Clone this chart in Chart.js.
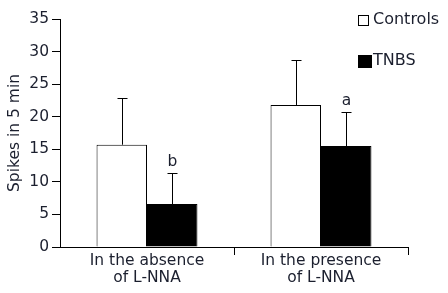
<!DOCTYPE html>
<html>
<head>
<meta charset="utf-8">
<script src="https://cdn.jsdelivr.net/npm/chart.js@4"></script>
<style>
  html, body { margin: 0; padding: 0; background: #fff; }
  #wrap { width: 448px; height: 293px; }
</style>
</head>
<body>
<div id="wrap"><canvas id="spikesChart"></canvas></div>
<script>
const categories = [['In the absence', 'of L-NNA'], ['In the presence', 'of L-NNA']];
const controlsMean = [15.7, 21.8];
const controlsErr = [22.9, 28.7];
const tnbsMean = [6.6, 15.5];
const tnbsErr = [11.4, 20.7];
const tnbsMarks = ['b', 'a'];
const yTicks = [0, 5, 10, 15, 20, 25, 30, 35];

const FONT = 'DejaVu Sans';
const INK = '#1b1f2e';

// error bars (upper only) plus the significance letters
const errorBars = {
  id: 'errorBars',
  afterDatasetsDraw(chart) {
    const ctx = chart.ctx;
    const y = chart.scales.y;
    ctx.save();
    ctx.strokeStyle = '#000';
    ctx.lineWidth = 1;
    chart.data.datasets.forEach((ds, i) => {
      const meta = chart.getDatasetMeta(i);
      meta.data.forEach((bar, j) => {
        const x = Math.round(bar.x) + 0.5;
        const yTop = Math.round(y.getPixelForValue(ds.errTop[j])) + 0.5;
        ctx.beginPath();
        ctx.moveTo(x, bar.y);
        ctx.lineTo(x, yTop);
        ctx.moveTo(x - 5, yTop);
        ctx.lineTo(x + 5, yTop);
        ctx.stroke();
        if (ds.marks) {
          ctx.fillStyle = INK;
          ctx.font = '15.5px ' + FONT;
          ctx.textAlign = 'center';
          ctx.textBaseline = 'bottom';
          ctx.fillText(ds.marks[j], x, yTop - 4);
        }
      });
    });
    ctx.restore();
  }
};

// legend drawn inside the plot, top right, stacked
const boxLegend = {
  id: 'boxLegend',
  afterDraw(chart) {
    const ctx = chart.ctx;
    const boxes = [[10, 10], [13, 12]];
    ctx.save();
    ctx.font = '16px ' + FONT;
    ctx.textBaseline = 'middle';
    ctx.textAlign = 'left';
    chart.data.datasets.forEach((ds, i) => {
      const bx = 358.5, cy = 20 + i * 41;
      const [w, h] = boxes[i];
      ctx.fillStyle = ds.backgroundColor;
      ctx.strokeStyle = '#000';
      ctx.lineWidth = 1;
      ctx.fillRect(bx, Math.round(cy - h / 2) + 0.5, w, h);
      ctx.strokeRect(bx, Math.round(cy - h / 2) + 0.5, w, h);
      ctx.fillStyle = INK;
      ctx.fillText(ds.label, 373, cy);
    });
    ctx.restore();
  }
};

new Chart(document.getElementById('spikesChart').getContext('2d'), {
  type: 'bar',
  data: {
    labels: categories,
    datasets: [{
      label: 'Controls',
      data: controlsMean,
      errTop: controlsErr,
      backgroundColor: '#ffffff',
      borderColor: '#000000',
      borderWidth: 1,
      categoryPercentage: 0.58,
      barPercentage: 1.0
    }, {
      label: 'TNBS',
      data: tnbsMean,
      errTop: tnbsErr,
      marks: tnbsMarks,
      backgroundColor: '#000000',
      borderColor: '#000000',
      borderWidth: 1,
      categoryPercentage: 0.58,
      barPercentage: 1.0
    }]
  },
  options: {
    responsive: true,
    maintainAspectRatio: false,
    animation: false,
    layout: { padding: { top: 19, right: 40, left: 0, bottom: 0 } },
    plugins: {
      legend: { display: false },
      tooltip: { enabled: false }
    },
    scales: {
      x: {
        afterFit(scale) { scale.height = 46; },
        grid: {
          display: true,
          drawOnChartArea: false,
          drawTicks: true,
          tickLength: 8,
          offset: true,
          color: c => (c.index === 0 ? 'rgba(0,0,0,0)' : '#000')
        },
        border: { color: '#000', width: 1 },
        ticks: {
          color: INK,
          font: { family: FONT, size: 15.5, lineHeight: 1.1 },
          padding: -3,
          maxRotation: 0
        }
      },
      y: {
        min: 0,
        max: 35,
        afterBuildTicks(scale) {
          scale.ticks = yTicks.map(v => ({ value: v }));
        },
        afterFit(scale) { scale.width = 60; },
        grid: {
          display: true,
          drawOnChartArea: false,
          drawTicks: true,
          tickLength: 8,
          color: '#000'
        },
        border: { color: '#000', width: 1 },
        ticks: {
          color: INK,
          font: { family: FONT, size: 15.5 },
          padding: 3
        },
        title: {
          display: true,
          text: 'Spikes in 5 min',
          color: INK,
          font: { family: FONT, size: 15.5 },
          padding: { top: 6, bottom: 0 }
        }
      }
    }
  },
  plugins: [errorBars, boxLegend]
});
</script>
</body>
</html>
